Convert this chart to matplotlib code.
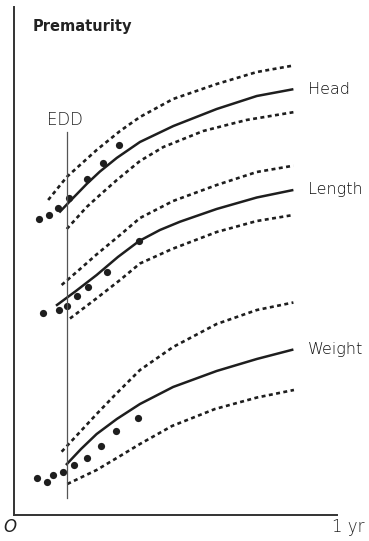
import matplotlib
matplotlib.use("Agg")
import matplotlib.pyplot as plt

# x: age in months (0 .. 12 = 1 yr); y: arbitrary growth scale (0..100 of chart height)
edd_month = 1.96
edd_y = [3.35, 75.4]

head_pts_x = [0.94, 1.29, 1.63, 2.05, 2.70, 3.32, 3.89]
head_pts_y = [58.27, 59.06, 60.37, 62.46, 66.14, 69.35, 72.83]
head_mid_x = [1.68, 2.05, 2.70, 3.19, 3.82, 4.68, 5.92, 7.53, 9.02, 10.38]
head_mid_y = [59.55, 61.61, 65.16, 67.60, 70.30, 73.43, 76.57, 79.92, 82.48, 83.82]
head_hi_x = [1.27, 1.96, 3.07, 3.94, 4.68, 5.91, 7.53, 9.02, 10.38]
head_hi_y = [62.01, 66.54, 71.85, 75.59, 78.35, 81.89, 84.84, 87.20, 88.48]
head_lo_x = [1.96, 2.70, 3.19, 3.82, 4.68, 5.55, 7.03, 8.64, 10.38]
head_lo_y = [56.30, 60.63, 62.99, 65.94, 69.69, 72.44, 75.59, 77.76, 79.29]

len_pts_x = [1.09, 1.68, 1.98, 2.35, 2.76, 3.47, 4.65]
len_pts_y = [39.82, 40.35, 41.14, 43.11, 44.94, 47.89, 53.94]
len_mid_x = [1.56, 2.30, 3.07, 3.86, 4.65, 5.42, 6.17, 7.53, 9.02, 10.38]
len_mid_y = [41.20, 44.09, 47.24, 50.79, 53.94, 56.10, 57.74, 60.24, 62.50, 63.98]
len_hi_x = [1.77, 2.45, 3.07, 3.94, 4.68, 5.91, 7.53, 9.02, 10.38]
len_hi_y = [45.28, 48.40, 51.30, 55.12, 58.46, 61.81, 64.96, 67.52, 68.76]
len_lo_x = [2.08, 3.07, 3.94, 4.68, 5.87, 7.53, 9.02, 10.38]
len_lo_y = [38.68, 42.66, 46.26, 49.51, 52.36, 55.71, 57.87, 59.06]

wt_pts_x = [0.84, 1.21, 1.46, 1.83, 2.23, 2.72, 3.22, 3.79, 4.60]
wt_pts_y = [7.22, 6.44, 7.87, 8.41, 9.84, 11.28, 13.64, 16.54, 19.04]
wt_mid_x = [1.93, 2.49, 3.07, 3.82, 4.68, 5.91, 7.53, 9.02, 10.38]
wt_mid_y = [9.84, 12.99, 15.94, 18.90, 21.85, 25.20, 28.35, 30.71, 32.58]
wt_hi_x = [1.77, 2.45, 3.07, 3.75, 4.68, 5.91, 7.53, 9.02, 10.38]
wt_hi_y = [12.46, 16.34, 19.88, 23.62, 28.54, 33.07, 37.60, 40.35, 41.83]
wt_lo_x = [1.98, 3.07, 3.94, 4.68, 5.87, 7.47, 9.03, 10.40]
wt_lo_y = [6.10, 8.86, 11.61, 13.98, 17.52, 20.87, 23.13, 24.61]

labels = ["Head", "Length", "Weight"]

fig = plt.figure(figsize=(3.69, 5.41), dpi=100)
ax = fig.add_axes([14/369, 26/541, 323/369, 508/541])
ax.set_xlim(0, 12)
ax.set_ylim(0, 100)

ink = "#1e1e1e"
dot_style = dict(color=ink, lw=1.9, linestyle=(0, (1.5, 1.3)), solid_capstyle="butt",
                 dash_capstyle="butt", solid_joinstyle="round")

groups = [
    (head_pts_x, head_pts_y, head_mid_x, head_mid_y, head_hi_x, head_hi_y, head_lo_x, head_lo_y),
    (len_pts_x, len_pts_y, len_mid_x, len_mid_y, len_hi_x, len_hi_y, len_lo_x, len_lo_y),
    (wt_pts_x, wt_pts_y, wt_mid_x, wt_mid_y, wt_hi_x, wt_hi_y, wt_lo_x, wt_lo_y),
]

for (px, py, mx, my, hx, hy, lx, ly), lab in zip(groups, labels):
    ax.plot(hx, hy, **dot_style)
    ax.plot(lx, ly, **dot_style)
    ax.plot(mx, my, color=ink, lw=1.8, solid_capstyle="butt", solid_joinstyle="round")
    ax.plot(px, py, "o", color=ink, ms=5.2, mec="none")
    ax.annotate(lab, xy=(mx[-1], my[-1]), xytext=(10.5, 0), textcoords="offset points",
                ha="left", va="center", fontsize=11.5, color="#111111",
                family="DejaVu Sans", fontweight="light")

# EDD line
ax.plot([edd_month, edd_month], edd_y, color="#555555", lw=0.9)
ax.text(edd_month - 0.07, edd_y[1] + 0.5, "EDD", ha="center", va="bottom",
        fontsize=12, color="#222222", fontweight="light")

ax.text(0.058, 0.962, "Prematurity", transform=ax.transAxes, ha="left", va="center",
        fontsize=10.5, fontweight="bold", color="#222222")

ax.text(-0.012, -0.024, "O", transform=ax.transAxes, ha="center", va="center",
        fontsize=12, style="italic", color="#222222", fontweight="light")
ax.text(1.035, -0.024, "1 yr", transform=ax.transAxes, ha="center", va="center",
        fontsize=12, color="#222222", fontweight="light")

for s in ["top", "right"]:
    ax.spines[s].set_visible(False)
for s in ["left", "bottom"]:
    ax.spines[s].set_color("#333333")
    ax.spines[s].set_linewidth(1.4)
ax.set_xticks([])
ax.set_yticks([])

fig.savefig("out.png", dpi=100)
